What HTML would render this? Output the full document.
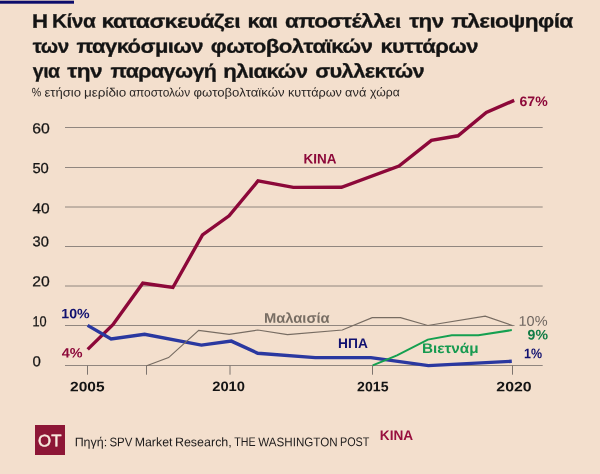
<!DOCTYPE html>
<html><head><meta charset="utf-8"><title>chart</title>
<style>
html,body{margin:0;padding:0;}
body{width:600px;height:474px;background:#f3dfcd;position:relative;overflow:hidden;font-family:"Liberation Sans",sans-serif;}
.t{position:absolute;white-space:nowrap;transform-origin:0 0;}
#w{position:absolute;left:0;top:0;width:600px;height:474px;will-change:transform;}
svg{position:absolute;left:0;top:0;}
[id^=t1_],[id^=t2_],[id^=t3_]{-webkit-text-stroke:0.3px #141414;letter-spacing:-0.5px;}
#y60,#y50,#y40,#y30,#y20,#y10,#y0{-webkit-text-stroke:0.25px #141414;}
#logo{position:absolute;left:35px;top:425px;width:30px;height:29.5px;background:#8d1636;}
#ot{-webkit-text-stroke:0.45px #f8e9de;}
</style></head><body>
<svg width="600" height="474" viewBox="0 0 600 474">
<rect x="0" y="0.7" width="74" height="3" fill="#0c0c6c"/>
<line x1="65" y1="127.5" x2="542.7" y2="127.5" stroke="#90867f" stroke-width="1"/>
<line x1="65" y1="167.5" x2="542.7" y2="167.5" stroke="#90867f" stroke-width="1"/>
<line x1="65" y1="207.0" x2="542.7" y2="207.0" stroke="#90867f" stroke-width="1"/>
<line x1="65" y1="246.5" x2="542.7" y2="246.5" stroke="#90867f" stroke-width="1"/>
<line x1="65" y1="286.0" x2="542.7" y2="286.0" stroke="#90867f" stroke-width="1"/>
<line x1="65" y1="325.5" x2="542.7" y2="325.5" stroke="#90867f" stroke-width="1"/>
<line x1="65" y1="365.5" x2="542.7" y2="365.5" stroke="#90867f" stroke-width="1"/>
<line x1="87.5" y1="365.5" x2="87.5" y2="374.7" stroke="#7d746e" stroke-width="1"/>
<line x1="146.5" y1="365.5" x2="146.5" y2="374.7" stroke="#7d746e" stroke-width="1"/>
<line x1="230.0" y1="365.5" x2="230.0" y2="374.7" stroke="#7d746e" stroke-width="1"/>
<line x1="372.5" y1="365.5" x2="372.5" y2="374.7" stroke="#7d746e" stroke-width="1"/>
<line x1="512.5" y1="365.5" x2="512.5" y2="374.7" stroke="#7d746e" stroke-width="1"/>
<polyline points="87.7,349.4 112.9,324.7 142.8,283.2 172.9,287.5 202.5,234.8 229.1,215.8 258.0,180.9 293.3,187.4 341.5,187.3 399.0,166.1 431.4,140.4 458.0,135.8 486.3,112.5 514.2,100.4" fill="none" stroke="#8c0839" stroke-width="3.4" stroke-linejoin="miter"/>
<polyline points="87.6,325.4 111.1,338.9 144.6,334.3 201.4,345.1 231.3,341.1 257.8,353.3 315.3,357.6 370.9,357.6 428.4,365.6 511.8,361.3" fill="none" stroke="#2a38a0" stroke-width="3.4" stroke-linejoin="miter"/>
<polyline points="146.6,365.7 168.6,357.6 198.7,330.3 229.2,334.3 257.8,330.0 287.5,334.6 342.3,330.0 372.2,317.6 400.5,317.6 427.8,325.5 485.2,316.2 512.5,325.6" fill="none" stroke="#776c62" stroke-width="1.2" stroke-linejoin="miter"/>
<polyline points="372.7,365.3 397.0,355.3 427.8,339.6 451.8,335.2 478.4,335.2 511.8,330.1" fill="none" stroke="#14a050" stroke-width="2.0" stroke-linejoin="miter"/>
<rect x="514.5" y="314" width="36" height="14" fill="#f3dfcd"/>
</svg>
<div id="w">
<div id="logo"></div>
<span class="t" id="t1_0" style="left:31px;top:11px;font-size:19.30px;line-height:19.30px;font-weight:700;color:#141414;transform:translate(0.970px,0.643px) scaleX(1.1498) rotate(0.03deg);">Η</span>
<span class="t" id="t1_1" style="left:52px;top:11px;font-size:19.30px;line-height:19.30px;font-weight:700;color:#141414;transform:translate(0.125px,0.587px) scaleX(1.0799) rotate(0.03deg);">Κίνα</span>
<span class="t" id="t1_2" style="left:101px;top:11px;font-size:19.30px;line-height:19.30px;font-weight:700;color:#141414;transform:translate(0.528px,0.623px) scaleX(1.2000) rotate(0.03deg);">κατασκευάζει</span>
<span class="t" id="t1_3" style="left:247px;top:11px;font-size:19.30px;line-height:19.30px;font-weight:700;color:#141414;transform:translate(0.634px,0.536px) scaleX(1.1457) rotate(0.03deg);">και</span>
<span class="t" id="t1_4" style="left:285px;top:11px;font-size:19.30px;line-height:19.30px;font-weight:700;color:#141414;transform:translate(0.006px,0.585px) scaleX(1.1636) rotate(0.03deg);">αποστέλλει</span>
<span class="t" id="t1_5" style="left:409px;top:11px;font-size:19.30px;line-height:19.30px;font-weight:700;color:#141414;transform:translate(0.234px,0.509px) scaleX(1.1578) rotate(0.03deg);">την</span>
<span class="t" id="t1_6" style="left:451px;top:11px;font-size:19.30px;line-height:19.30px;font-weight:700;color:#141414;transform:translate(0.339px,0.572px) scaleX(1.1740) rotate(0.03deg);">πλειοψηφία</span>
<span class="t" id="t2_0" style="left:32px;top:36px;font-size:19.30px;line-height:19.30px;font-weight:700;color:#141414;transform:translate(0.711px,0.676px) scaleX(1.0678) rotate(0.03deg);">των</span>
<span class="t" id="t2_1" style="left:76px;top:36px;font-size:19.30px;line-height:19.30px;font-weight:700;color:#141414;transform:translate(0.403px,0.629px) scaleX(1.1399) rotate(0.03deg);">παγκόσμιων</span>
<span class="t" id="t2_2" style="left:210px;top:36px;font-size:19.30px;line-height:19.30px;font-weight:700;color:#141414;transform:translate(0.834px,0.637px) scaleX(1.1577) rotate(0.03deg);">φωτοβολταϊκών</span>
<span class="t" id="t2_3" style="left:380px;top:36px;font-size:19.30px;line-height:19.30px;font-weight:700;color:#141414;transform:translate(0.422px,0.656px) scaleX(1.1399) rotate(0.03deg);">κυττάρων</span>
<span class="t" id="t3_0" style="left:32px;top:61px;font-size:19.30px;line-height:19.30px;font-weight:700;color:#141414;transform:translate(0.823px,0.577px) scaleX(1.0114) rotate(0.03deg);">για</span>
<span class="t" id="t3_1" style="left:67px;top:61px;font-size:19.30px;line-height:19.30px;font-weight:700;color:#141414;transform:translate(0.324px,0.530px) scaleX(1.1726) rotate(0.03deg);">την</span>
<span class="t" id="t3_2" style="left:110px;top:61px;font-size:19.30px;line-height:19.30px;font-weight:700;color:#141414;transform:translate(0.427px,0.594px) scaleX(1.1104) rotate(0.03deg);">παραγωγή</span>
<span class="t" id="t3_3" style="left:223px;top:61px;font-size:19.30px;line-height:19.30px;font-weight:700;color:#141414;transform:translate(0.294px,0.632px) scaleX(1.1474) rotate(0.03deg);">ηλιακών</span>
<span class="t" id="t3_4" style="left:315px;top:61px;font-size:19.30px;line-height:19.30px;font-weight:700;color:#141414;transform:translate(0.157px,0.555px) scaleX(1.1306) rotate(0.03deg);">συλλεκτών</span>
<span class="t" id="sub_0" style="left:31px;top:86px;font-size:12.20px;line-height:12.20px;font-weight:400;color:#2a2624;transform:translate(0.694px,0.343px) scaleX(0.8731) rotate(0.03deg);">%</span>
<span class="t" id="sub_1" style="left:44px;top:86px;font-size:12.20px;line-height:12.20px;font-weight:400;color:#2a2624;transform:translate(0.448px,0.470px) scaleX(1.0732) rotate(0.03deg);">ετήσιο</span>
<span class="t" id="sub_2" style="left:83px;top:86px;font-size:12.20px;line-height:12.20px;font-weight:400;color:#2a2624;transform:translate(0.976px,0.424px) scaleX(1.1047) rotate(0.03deg);">μερίδιο</span>
<span class="t" id="sub_3" style="left:129px;top:86px;font-size:12.20px;line-height:12.20px;font-weight:400;color:#2a2624;transform:translate(0.136px,0.521px) scaleX(0.9796) rotate(0.03deg);">αποστολών</span>
<span class="t" id="sub_4" style="left:193px;top:86px;font-size:12.20px;line-height:12.20px;font-weight:400;color:#2a2624;transform:translate(0.600px,0.387px) scaleX(1.0790) rotate(0.03deg);">φωτοβολταϊκών</span>
<span class="t" id="sub_5" style="left:288px;top:86px;font-size:12.20px;line-height:12.20px;font-weight:400;color:#2a2624;transform:translate(0.038px,0.420px) scaleX(1.0396) rotate(0.03deg);">κυττάρων</span>
<span class="t" id="sub_6" style="left:345px;top:86px;font-size:12.20px;line-height:12.20px;font-weight:400;color:#2a2624;transform:translate(0.102px,0.412px) scaleX(1.0507) rotate(0.03deg);">ανά</span>
<span class="t" id="sub_7" style="left:370px;top:86px;font-size:12.20px;line-height:12.20px;font-weight:400;color:#2a2624;transform:translate(0.126px,0.305px) scaleX(1.0000) rotate(0.03deg);">χώρα</span>
<span class="t" id="src_0" style="left:74px;top:436px;font-size:12.50px;line-height:12.50px;font-weight:400;color:#1e1c1c;transform:translate(0.632px,0.231px) scaleX(0.9957) rotate(0.03deg);">Πηγή:</span>
<span class="t" id="src_1" style="left:109px;top:436px;font-size:12.50px;line-height:12.50px;font-weight:400;color:#1e1c1c;transform:translate(0.386px,0.140px) scaleX(0.9160) rotate(0.03deg);">SPV</span>
<span class="t" id="src_2" style="left:134px;top:436px;font-size:12.50px;line-height:12.50px;font-weight:400;color:#1e1c1c;transform:translate(0.713px,0.202px) scaleX(0.9883) rotate(0.03deg);">Market</span>
<span class="t" id="src_3" style="left:174px;top:436px;font-size:12.50px;line-height:12.50px;font-weight:400;color:#1e1c1c;transform:translate(0.922px,0.235px) scaleX(0.9979) rotate(0.03deg);">Research,</span>
<span class="t" id="src_4" style="left:234px;top:436px;font-size:12.50px;line-height:12.50px;font-weight:400;color:#1e1c1c;transform:translate(0.169px,0.082px) scaleX(0.8536) rotate(0.03deg);">THE</span>
<span class="t" id="src_5" style="left:258px;top:436px;font-size:12.50px;line-height:12.50px;font-weight:400;color:#1e1c1c;transform:translate(0.218px,0.278px) scaleX(0.9306) rotate(0.03deg);">WASHINGTON</span>
<span class="t" id="src_6" style="left:339px;top:436px;font-size:12.50px;line-height:12.50px;font-weight:400;color:#1e1c1c;transform:translate(0.956px,0.109px) scaleX(0.8656) rotate(0.03deg);">POST</span>
<span class="t" id="y60" style="left:32px;top:121px;font-size:14.40px;line-height:14.40px;font-weight:400;color:#141414;transform:translate(0.189px,0.305px) scaleX(1.0960) rotate(0.03deg);">60</span>
<span class="t" id="y50" style="left:32px;top:161px;font-size:14.40px;line-height:14.40px;font-weight:400;color:#141414;transform:translate(0.395px,0.120px) scaleX(1.0253) rotate(0.03deg);">50</span>
<span class="t" id="y40" style="left:32px;top:201px;font-size:14.40px;line-height:14.40px;font-weight:400;color:#141414;transform:translate(0.436px,0.146px) scaleX(1.0777) rotate(0.03deg);">40</span>
<span class="t" id="y30" style="left:32px;top:234px;font-size:14.40px;line-height:14.40px;font-weight:400;color:#141414;transform:translate(0.586px,0.374px) scaleX(1.0178) rotate(0.03deg);">30</span>
<span class="t" id="y20" style="left:32px;top:274px;font-size:14.40px;line-height:14.40px;font-weight:400;color:#141414;transform:translate(0.172px,0.142px) scaleX(1.0907) rotate(0.03deg);">20</span>
<span class="t" id="y10" style="left:32px;top:314px;font-size:14.40px;line-height:14.40px;font-weight:400;color:#141414;transform:translate(0.433px,0.366px) scaleX(0.8861) rotate(0.03deg);">10</span>
<span class="t" id="y0" style="left:32px;top:354px;font-size:14.40px;line-height:14.40px;font-weight:400;color:#141414;transform:translate(0.482px,0.247px) scaleX(1.0417) rotate(0.03deg);">0</span>
<span class="t" id="x05" style="left:70px;top:380px;font-size:13.70px;line-height:13.70px;font-weight:700;color:#141414;transform:translate(0.066px,0.273px) scaleX(1.1351) rotate(0.03deg);">2005</span>
<span class="t" id="x10" style="left:212px;top:380px;font-size:13.70px;line-height:13.70px;font-weight:700;color:#141414;transform:translate(0.222px,0.025px) scaleX(1.0778) rotate(0.03deg);">2010</span>
<span class="t" id="x15" style="left:357px;top:380px;font-size:13.70px;line-height:13.70px;font-weight:700;color:#141414;transform:translate(0.081px,0.153px) scaleX(1.0320) rotate(0.03deg);">2015</span>
<span class="t" id="x20" style="left:496px;top:380px;font-size:13.70px;line-height:13.70px;font-weight:700;color:#141414;transform:translate(0.321px,0.165px) scaleX(1.1615) rotate(0.03deg);">2020</span>
<span class="t" id="l10" style="left:61px;top:307px;font-size:13.60px;line-height:13.60px;font-weight:700;color:#111170;transform:translate(0.287px,0.337px) scaleX(1.0401) rotate(0.03deg);">10%</span>
<span class="t" id="l4" style="left:61px;top:346px;font-size:13.60px;line-height:13.60px;font-weight:700;color:#8c0839;transform:translate(0.745px,0.485px) scaleX(1.0571) rotate(0.03deg);">4%</span>
<span class="t" id="lkina" style="left:303px;top:151px;font-size:14.00px;line-height:14.00px;font-weight:700;color:#8c0839;transform:translate(0.624px,0.475px) scaleX(0.9632) rotate(0.03deg);">ΚΙΝΑ</span>
<span class="t" id="l67" style="left:519px;top:94px;font-size:13.70px;line-height:13.70px;font-weight:700;color:#8c0839;transform:translate(0.512px,0.891px) scaleX(1.0285) rotate(0.03deg);">67%</span>
<span class="t" id="lmal" style="left:263px;top:310px;font-size:14.00px;line-height:14.00px;font-weight:700;color:#786e64;transform:translate(0.914px,0.680px) scaleX(1.0530) rotate(0.03deg);">Μαλαισία</span>
<span class="t" id="lhpa" style="left:338px;top:336px;font-size:14.00px;line-height:14.00px;font-weight:700;color:#111170;transform:translate(0.129px,0.019px) scaleX(0.9792) rotate(0.03deg);">ΗΠΑ</span>
<span class="t" id="lviet" style="left:422px;top:340px;font-size:14.00px;line-height:14.00px;font-weight:700;color:#169a50;transform:translate(0.030px,0.919px) scaleX(1.0910) rotate(0.03deg);">Βιετνάμ</span>
<span class="t" id="r10" style="left:518px;top:313px;font-size:14.00px;line-height:14.00px;font-weight:400;color:#6e655f;transform:translate(0.519px,0.667px) scaleX(1.0350) rotate(0.03deg);">10%</span>
<span class="t" id="r9" style="left:527px;top:327px;font-size:14.00px;line-height:14.00px;font-weight:700;color:#117c46;transform:translate(0.625px,0.488px) scaleX(1.0065) rotate(0.03deg);">9%</span>
<span class="t" id="r1" style="left:523px;top:346px;font-size:14.00px;line-height:14.00px;font-weight:700;color:#111170;transform:translate(0.979px,0.151px) scaleX(0.8917) rotate(0.03deg);">1%</span>
<span class="t" id="fkina" style="left:379px;top:428px;font-size:14.00px;line-height:14.00px;font-weight:700;color:#980f3e;transform:translate(0.830px,0.076px) scaleX(0.9734) rotate(0.03deg);">ΚΙΝΑ</span>
<span class="t" id="ot" style="left:38px;top:433px;font-size:16.60px;line-height:16.60px;font-weight:400;color:#f8e9de;transform:translate(0.080px,0.201px) scaleX(1.0132) rotate(0.03deg);">OT</span>
</div>
</body></html>
